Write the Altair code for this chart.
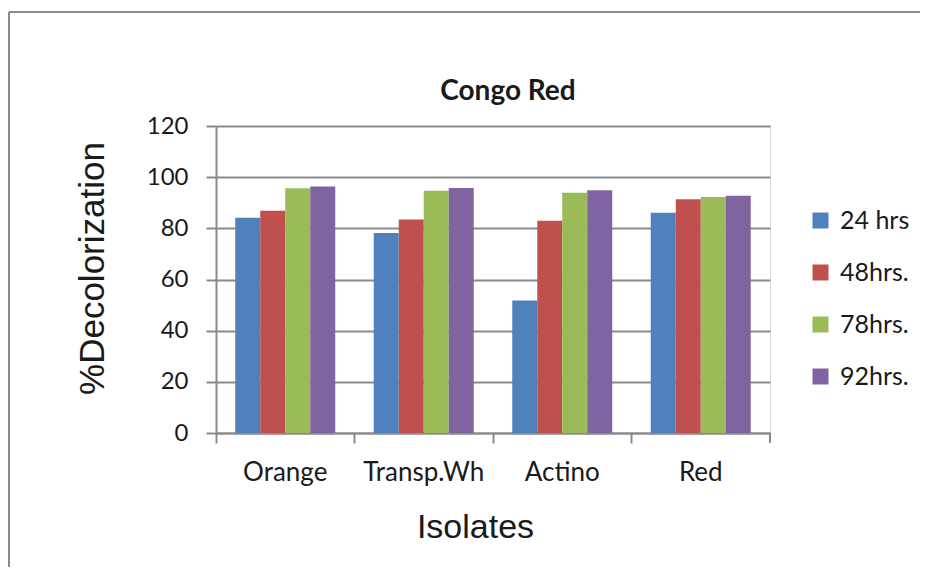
import altair as alt
import pandas as pd

isolates = ["Orange", "Transp.Wh", "Actino", "Red"]
series = ["24 hrs", "48hrs.", "78hrs.", "92hrs."]
v24 = [84.1, 78.2, 51.8, 86.1]
v48 = [86.9, 83.5, 83.0, 91.4]
v78 = [95.7, 94.7, 93.9, 92.2]
v92 = [96.4, 95.8, 94.9, 92.7]
colors = ["#4F81BD", "#C0504D", "#9BBB59", "#8064A2"]
y_ticks = [0, 20, 40, 60, 80, 100, 120]
chart_title = "Congo Red"

rows = []
for s, vals in zip(series, [v24, v48, v78, v92]):
    for iso, v in zip(isolates, vals):
        rows.append({"Isolate": iso, "Time": s, "Value": v})
df = pd.DataFrame(rows)

W, H = 554, 307
PL, PT = 208, 118
TOTAL_W, TOTAL_H = 912, 559
GRAY = "#8a8a8a"
LABEL_FONT = "Lato"
TITLE_FONT = "Liberation Sans"
INK = "#1a1a1a"

bars = alt.Chart(df).mark_bar().encode(
    x=alt.X(
        "Isolate:N", sort=isolates,
        scale=alt.Scale(paddingInner=0, paddingOuter=0),
        axis=alt.Axis(
            title="Isolates", bandPosition=0,
            domainColor=GRAY, domainWidth=2, tickColor=GRAY, tickWidth=2, tickSize=10,
            labelFont=LABEL_FONT, labelFontSize=26, labelColor=INK, labelPadding=16,
            labelAngle=0,
            titleFont=TITLE_FONT, titleFontSize=34, titleFontWeight="normal", titleColor=INK,
            titleX=259, titleY=94, titleBaseline="middle", titleAnchor="start", titleAlign="center",
            grid=False,
        ),
    ),
    xOffset=alt.XOffset("Time:N", sort=series, scale=alt.Scale(paddingInner=0, paddingOuter=0.77)),
    y=alt.Y(
        "Value:Q", scale=alt.Scale(domain=[0, 120], nice=False),
        axis=alt.Axis(
            title="%Decolorization", values=y_ticks,
            domainColor=GRAY, domainWidth=2, tickColor=GRAY, tickWidth=2, tickSize=10,
            gridColor=GRAY, gridWidth=2,
            labelFont=LABEL_FONT, labelFontSize=24, labelColor=INK, labelPadding=18,
            titleFont=TITLE_FONT, titleFontSize=35, titleFontWeight="normal", titleColor=INK,
            titleX=-124, titleY=142, titleAngle=-90, titleAlign="center", titleBaseline="middle",
            titleAnchor="start",
        ),
    ),
    color=alt.Color(
        "Time:N", sort=series,
        scale=alt.Scale(domain=series, range=colors),
        legend=alt.Legend(
            title=None, orient="none", legendX=592, legendY=82,
            symbolType="square", symbolSize=256, symbolStrokeWidth=0,
            labelFont=LABEL_FONT, labelFontSize=25, labelColor=INK, labelOffset=7,
            rowPadding=26,
        ),
    ),
)

one = pd.DataFrame({"t": [chart_title]})

title_mark = alt.Chart(one).mark_text(
    font=LABEL_FONT, fontSize=28, fontWeight="bold", color=INK,
    align="center", baseline="alphabetic",
).encode(text="t:N", x=alt.value(292), y=alt.value(-26))

end_tick = alt.Chart(one).mark_rule(color=GRAY, strokeWidth=2).encode(
    x=alt.value(W), y=alt.value(H), y2=alt.value(H + 10)
)
border_top = alt.Chart(one).mark_rule(color=GRAY, strokeWidth=2).encode(
    x=alt.value(-PL + 1), x2=alt.value(TOTAL_W - PL + 20), y=alt.value(-114)
)
border_left = alt.Chart(one).mark_rule(color=GRAY, strokeWidth=2).encode(
    x=alt.value(-PL + 1), y=alt.value(-114), y2=alt.value(TOTAL_H - PT + 20)
)

chart = alt.layer(bars, end_tick, border_top, border_left, title_mark).properties(
    width=W, height=H,
    autosize=alt.AutoSizeParams(type="none"),
    padding={"left": PL, "top": PT, "right": TOTAL_W - PL - W, "bottom": TOTAL_H - PT - H},
).configure_view(stroke=None).configure(background="white")

chart.save("out.html", embed_options={"renderer": "svg", "actions": False})
